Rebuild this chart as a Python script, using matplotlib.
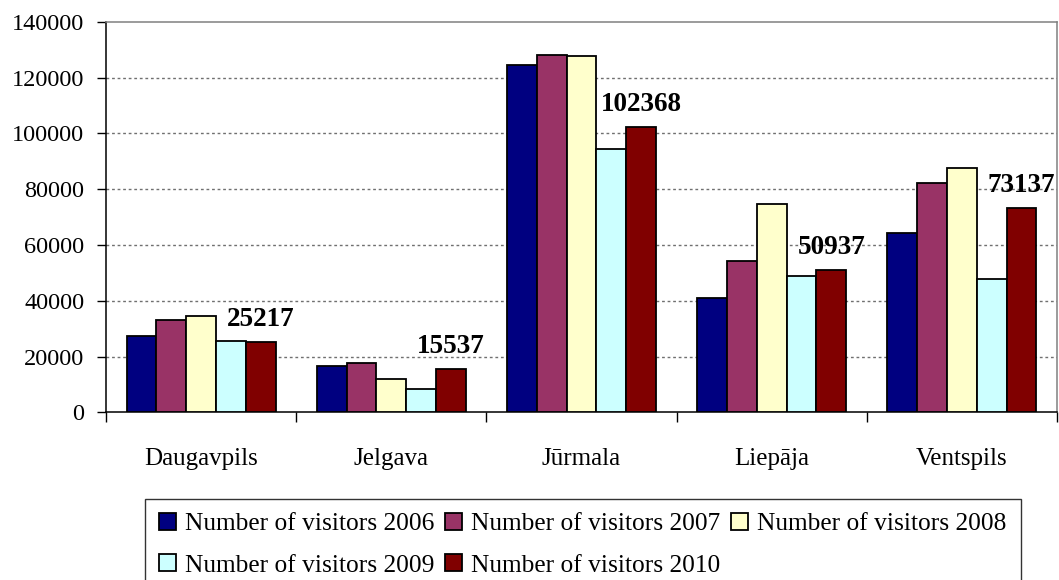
import matplotlib
matplotlib.use("Agg")
import matplotlib.pyplot as plt
import numpy as np

categories = ["Daugavpils", "Jelgava", "Jūrmala", "Liepāja", "Ventspils"]
series_names = ["Number of visitors 2006", "Number of visitors 2007",
                "Number of visitors 2008", "Number of visitors 2009",
                "Number of visitors 2010"]
v2006 = [27500, 16600, 124600, 40900, 64400]
v2007 = [33100, 17800, 128200, 54300, 82300]
v2008 = [34400, 12100, 127700, 74700, 87500]
v2009 = [25500, 8400, 94500, 49000, 47900]
v2010 = [25217, 15537, 102368, 50937, 73137]
yticks = [0, 20000, 40000, 60000, 80000, 100000, 120000, 140000]

colors = ["#000080", "#993366", "#FFFFCC", "#CCFFFF", "#800000"]
series = [v2006, v2007, v2008, v2009, v2010]

plt.rcParams['font.family'] = ['Liberation Serif', 'DejaVu Serif']

fig = plt.figure(figsize=(10.59, 5.80), dpi=100)
ax = fig.add_axes([106/1059, 1-412.3/580, (1057-106)/1059, (412.3-21.7)/580])

x = np.arange(len(categories))
w = 0.1566
handles = []
for i, (vals, c, name) in enumerate(zip(series, colors, series_names)):
    b = ax.bar(x + (i - 2) * w, vals, width=w, color=c, edgecolor='black',
               linewidth=1.3, label=name, zorder=3)
    handles.append(b)

# data labels for 2010
for xi, v in zip(x, v2010):
    ax.annotate(f"{v}", xy=(xi + 2 * w, v), xytext=(0, 11.5),
                textcoords='offset points', ha='center', va='baseline',
                fontsize=19.5, fontweight='bold', zorder=4)

ax.set_xlim(-0.5, len(categories) - 0.5)
ax.set_ylim(0, 140000)
ax.set_yticks(yticks)
ax.set_yticklabels([str(t) for t in yticks], fontsize=17.5)
for t in yticks[1:-1]:
    ax.axhline(t, color='#707070', linestyle=(0, (2, 2)), linewidth=1.0, zorder=1)

ax.set_xticks(x)
ax.set_xticklabels(categories, fontsize=18)
ax.set_xticks(np.arange(-0.5, len(categories), 1.0), minor=True)
ax.tick_params(axis='x', which='major', length=0, pad=26)
ax.tick_params(axis='x', which='minor', length=7, width=1, color='black', direction='out')
ax.tick_params(axis='y', which='major', length=6.5, width=1, direction='out', pad=9)

for s in ['left', 'bottom']:
    ax.spines[s].set_color('black')
    ax.spines[s].set_linewidth(1.1)
for s in ['top', 'right']:
    ax.spines[s].set_color('#808080')
    ax.spines[s].set_linewidth(1.1)

order = [0, 3, 1, 4, 2]
leg = fig.legend([handles[k] for k in order], [series_names[k] for k in order],
                 ncol=3, loc='upper left', bbox_to_anchor=(145/1059, 1-499/580),
                 bbox_transform=fig.transFigure, fontsize=18.3, frameon=True,
                 fancybox=False, edgecolor='black', borderpad=0.55,
                 handlelength=0.65, handleheight=0.65, handletextpad=0.38,
                 columnspacing=0.42, labelspacing=0.74, borderaxespad=0)
leg.get_frame().set_linewidth(1.0)

fig.savefig("out.png", dpi=100)
